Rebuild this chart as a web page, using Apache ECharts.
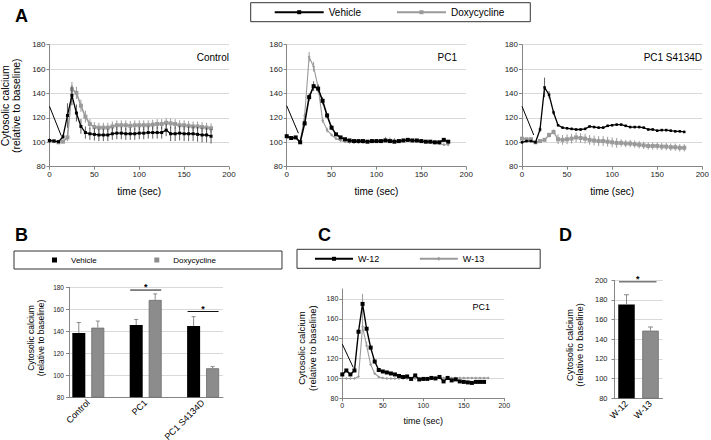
<!DOCTYPE html>
<html><head><meta charset="utf-8">
<script src="https://cdn.jsdelivr.net/npm/echarts@6/dist/echarts.min.js"></script>
<style>html,body{margin:0;padding:0;background:#fff}#c{width:711px;height:440px}</style>
</head><body><div id="c"></div>
<script>
const FONT = '"Liberation Sans", Arial, Helvetica, sans-serif';

// ---------- DATA ----------
const time = [0,5,10,15,20,25,30,35,40,45,50,55,60,65,70,75,80,85,90,95,100,105,110,115,120,125,130,135,140,145,150,155,160,165,170,175,180];
const timeTicks = [0,50,100,150,200];

// Panel A - Control
const a1Vehicle    = [101.5,101,100.5,104.5,122,138.5,124,113,108,107,106.5,106,106,106,107,107.5,107.5,107,107,107,107.5,107.5,108,108,108,108,110,107,107,107.5,107,107,107,106.5,106,106,105];
const a1VehicleErr = [2,1,1,2,10,8,7,6,5,5,5,5,5,5,5,5,5,5,5,5,5,5,5,5,5,5,5,6,6,6,6,6,6,6,6,6,6];
const a1Doxy       = [101,101,100,100.5,104,143.5,140.5,130,121,115,112.5,112,112,112,113,114,114,114,113.5,114,114,114,114,114.5,115,115,116,115.5,115,114,114,113.5,113,113,112.5,112,111.5];
const a1DoxyErr    = [1,1,1,1,3,6,5,5,5,4,4,4,4,4,4,4,4,4,4,4,4,4,4,4,4,4,4,4,4,4,4,4,4,4,4,4,4];
// Panel A - PC1
const a2Vehicle    = [105,103.5,104,100,115.5,137,146,144,134,122,112,106.5,104,102.5,101.5,101,101,101,100.5,101,101,101,101.5,101,100.5,101,101.5,102,101.5,101.5,101,100.5,100.5,100,100,102,100.5];
const a2VehicleErr = [1,1,1,1,2,3,4,3,3,2,2,1,1,1,1,1,1,1,1,1,1,1,1,1,1,1,1,1,1,1,1,1,1,1,1,1,1];
const a2Doxy       = [104,103,104,100,122,170,162,145,118,110,106,103,101.5,100.5,100,100,100,100,100.5,100.5,101,101,102.5,102,101.5,101,101,101.5,101.5,101,101,100.5,100,99.5,99,98,98];
const a2DoxyErr    = [1,1,1,1,2,4,4,3,2,2,1,1,1,1,1,1,1,1,1,1,1,1,2,2,2,1,1,1,1,1,1,1,1,1,1,1,1];
// Panel A - PC1 S4134D
const a3Vehicle    = [100,101,101,100,110.5,145,139,124.5,114,112,111.5,111,110.5,110.5,111,113,112.5,112,112,113.5,114,114.5,114.5,113.5,112.5,112.5,112.5,112,110.5,110.5,109.5,110,110,109.5,109,109,108.5];
const a3VehicleErr = [1,1,1,1,2,8,3,2,1,1,1,1,1,1,1,1,1,1,1,1,1,1,1,1,1,1,1,1,1,1,1,1,1,1,1,1,1];
const a3Doxy       = [103,102.5,102.5,100,101,102,106,108.5,102.5,102,102.5,103,104,103.5,103,102,101.5,101,101,100.5,100,99.5,99.5,99,99,98.5,98,97.5,97,97,97,96.5,96.5,96,96,95.5,95.5];
const a3DoxyErr    = [1,1,1,1,1,1,2,2,4,4,4,4,4,4,4,4,4,4,4,4,4,4,3,3,3,3,3,3,3,3,3,3,3,3,3,3,3];
// stimulus arrows [start, end] in (time, value)
const arrowA1 = [[0,129.5],[13,105.5]];
const arrowA2 = [[0,130],[13,107.5]];
const arrowA3 = [[0,129.5],[13,106]];
const arrowC  = [[0,134.5],[13.5,111]];

// Panel B
const catsB   = ['Control','PC1','PC1 S4134D'];
const vehB    = [138.5,145.8,144.8];
const vehBErr = [9.5,5,8.5];
const doxB    = [143.3,168.5,106.4];
const doxBErr = [6,5.5,1.5];
const sigB    = [['PC1',177.5,'PC1'],['PC1 S4134D',158,'PC1 S4134D']];

// Panel C
const timeW12 = [0,5,10,15,20,25,30,35,40,45,50,55,60,65,70,75,80,85,90,95,100,105,110,115,120,125,130,135,140,145,150,155,160,165,170,175];
const w12     = [104,108,104,108,147,175,150,131,117,108.5,107,106,105,104,102.5,101.5,102,99.5,103,99,99.5,99.5,100.5,100,101.5,97,100.5,98,99,97,96.5,96,95.5,96.5,96.5,96.5];
const w13     = [100,100,100,100,102,152,133,114,105,101.5,100.5,100,100,100,100,100,100,100,100,100,100,100,100,100.5,100.5,100.5,100.5,100.5,100.5,100.5,100.5,100.5,100.5,100.5,100.5,100.5,100.5];
const w13Err  = [0,0,0,0,0,33,4,2,0,0,0,0,0,0,0,0,0,0,0,0,0,0,0,0,0,0,0,0,0,0,0,0,0,0,0,0,0];

// Panel D
const catsD = ['W-12','W-13'];
const valD  = [175.3,148.8];
const errD  = [10,3.7];
const sigD  = [['W-12',198.6,'W-13']];

// ---------- HELPERS ----------
const AX = '#868686', GRID = '#d9d9d9', GRAY = '#9a9a9a', BARGRAY = '#8c8c8c';
function pairs(t, v){ return v.map((y,i)=>[t[i], y]); }

function lineSeries(name, gi, t, v, color, symbol, size, width, z, arrow){
  const s = {name, type:'line', xAxisIndex:gi, yAxisIndex:gi, data:pairs(t,v),
    symbol, symbolSize:size, showSymbol:true, showAllSymbol:true,
    lineStyle:{color, width}, itemStyle:{color}, silent:true, z, animation:false};
  if (arrow) s.markLine = {silent:true, symbol:['none','arrow'], symbolSize:[0,5],
    lineStyle:{color:'#000', width:1, type:'solid'}, label:{show:false}, animation:false,
    data:[[{coord:arrow[0]},{coord:arrow[1]}]]};
  return s;
}
function errSeries(gi, t, v, e, color, cap, upOnly, z, lw){
  return {type:'custom', xAxisIndex:gi, yAxisIndex:gi, silent:true, z, animation:false,
    data: v.map((y,i)=>[t[i], y, e[i]]).filter(d=>d[2]>0),
    renderItem(p, api){
      const x=api.value(0), y=api.value(1), er=api.value(2);
      const a=api.coord([x, y+er]), b=api.coord([x, upOnly? y : y-er]);
      const ch=[{type:'line', shape:{x1:a[0],y1:a[1],x2:b[0],y2:b[1]}, style:{stroke:color,lineWidth:lw||1}}];
      if (cap) ch.push({type:'line', shape:{x1:a[0]-cap,y1:a[1],x2:a[0]+cap,y2:a[1]}, style:{stroke:color,lineWidth:1}});
      return {type:'group', children:ch};
    }};
}
function barErr(gi, cats, v, e, off, color, cap){
  return {type:'custom', xAxisIndex:gi, yAxisIndex:gi, silent:true, z:5, animation:false,
    data: v.map((y,i)=>[cats[i], y, e[i]]),
    renderItem(p, api){
      const c=api.coord([api.value(0), api.value(1)]);
      const t=api.coord([api.value(0), api.value(1)+api.value(2)]);
      const x=c[0]+off;
      return {type:'group', children:[
        {type:'line', shape:{x1:x,y1:c[1],x2:x,y2:t[1]}, style:{stroke:color,lineWidth:1}},
        {type:'line', shape:{x1:x-cap,y1:t[1],x2:x+cap,y2:t[1]}, style:{stroke:color,lineWidth:1}}]};
    }};
}
function sigSeries(gi, data, extL, extR, color, lw){
  return {type:'custom', xAxisIndex:gi, yAxisIndex:gi, silent:true, z:6, animation:false,
    data, encode:{x:[0,2], y:1},
    renderItem(p, api){
      const a=api.coord([api.value(0), api.value(1)]);
      const b=api.coord([api.value(2), api.value(1)]);
      const x1=a[0]+extL, x2=b[0]+extR, y=a[1];
      return {type:'group', children:[
        {type:'line', shape:{x1,y1:y,x2,y2:y}, style:{stroke:color,lineWidth:lw}},
        {type:'text', style:{text:'*', x:(x1+x2)/2, y:y+1.5, align:'center', verticalAlign:'bottom',
          fontSize:9, fontWeight:'bold', fontFamily:FONT, fill:'#000'}}]};
    }};
}
function xTime(gi, fs, gap, nfs){
  return {type:'value', gridIndex:gi, min:timeTicks[0], max:timeTicks[timeTicks.length-1], interval:50,
    axisLine:{show:true, onZero:false, lineStyle:{color:AX}}, axisTick:{show:true, length:3, lineStyle:{color:AX}},
    splitLine:{show:false}, axisLabel:{fontSize:fs, color:'#222', margin:4, fontFamily:FONT},
    name:'time (sec)', nameLocation:'middle', nameGap:gap, nameMoveOverlap:false,
    nameTextStyle:{fontSize:nfs, color:'#000', fontFamily:FONT}};
}
function yVal(gi, min, max, fs, margin, title){
  const o = {type:'value', gridIndex:gi, min, max, interval:20,
    axisLine:{show:true, onZero:false, lineStyle:{color:AX}}, axisTick:{show:true, length:3, lineStyle:{color:AX}},
    splitLine:{show:true, showMaxLine:true, lineStyle:{color:GRID, width:1}},
    axisLabel:{fontSize:fs, color:'#222', margin, fontFamily:FONT}};
  if (title){
    o.name='Cytosolic calcium\n(relative to baseline)'; o.nameLocation='middle'; o.nameRotate=90;
    o.nameMoveOverlap=false;
    o.nameGap=title.gap; o.nameTextStyle={fontSize:title.fs, lineHeight:title.lh, color:'#000', fontFamily:FONT, padding:title.pad||0};
  }
  return o;
}

const grids = [
  {left:49.5, top:44.7, width:179.5, height:122},   // A1
  {left:286.7, top:44.7, width:179.5, height:122},  // A2
  {left:522, top:44.7, width:180.3, height:122},    // A3
  {left:342.3, top:289, width:162, height:109.3},   // C
  {left:69, top:287.3, width:154, height:110},      // B axes
  {left:59.6, top:287.3, width:172.2, height:110},  // B bars
  {left:614.5, top:280.3, width:48, height:118}     // D
].map(g=>Object.assign({outerBoundsMode:'none', containLabel:false}, g));

const xAxes = [
  xTime(0, 8, 20, 10), xTime(1, 8, 20, 10), xTime(2, 8, 20, 10), xTime(3, 7, 18, 9),
  {type:'value', gridIndex:4, min:0, max:1, axisLine:{show:true, lineStyle:{color:AX}}, axisTick:{show:false}, axisLabel:{show:false}, splitLine:{show:false}},
  {type:'category', gridIndex:5, data:catsB, axisLine:{show:false}, axisTick:{show:false},
    axisLabel:{rotate:45, interval:0, fontSize:9, margin:4, color:'#000', fontFamily:FONT}},
  {type:'category', gridIndex:6, data:catsD, axisLine:{show:true, lineStyle:{color:AX}}, axisTick:{show:false},
    axisLabel:{rotate:45, interval:0, fontSize:9, margin:4, color:'#000', fontFamily:FONT}}
];
const yC = yVal(3, 80, 190, 7, 4, {gap:25, fs:9.5, lh:10.5, pad:[0,9,0,0]});
yC.axisLabel.showMaxLabel = false; yC.splitLine.showMaxLine = false;
const yAxes = [
  yVal(0, 80, 180, 8, 4, {gap:27.5, fs:10.5, lh:11.5}),
  yVal(1, 80, 180, 8, 4), yVal(2, 80, 180, 8, 4),
  yC,
  yVal(4, 80, 180, 6.5, 5, {gap:23.5, fs:8.5, lh:9.5, pad:[0,0,0,8.6]}),
  {type:'value', gridIndex:5, min:80, max:180, show:false},
  yVal(6, 80, 200, 7.5, 7, {gap:30, fs:9.3, lh:10, pad:[0,11.4,0,0]})
];

const series = [
  // A1
  errSeries(0, time, a1Doxy, a1DoxyErr, GRAY, 0, false, 2, 1),
  lineSeries('Doxycycline', 0, time, a1Doxy, GRAY, 'rect', 4, 1.6, 3),
  errSeries(0, time, a1Vehicle, a1VehicleErr, '#333', 0, false, 4, 0.8),
  lineSeries('Vehicle', 0, time, a1Vehicle, '#000', 'rect', 3, 1.3, 5, arrowA1),
  // A2
  errSeries(1, time, a2Doxy, a2DoxyErr, GRAY, 0, false, 2, 1),
  lineSeries('Doxycycline', 1, time, a2Doxy, GRAY, 'diamond', 3, 1.1, 3),
  errSeries(1, time, a2Vehicle, a2VehicleErr, '#333', 0, false, 4, 0.8),
  lineSeries('Vehicle', 1, time, a2Vehicle, '#000', 'rect', 4, 1.6, 5, arrowA2),
  // A3
  errSeries(2, time, a3Doxy, a3DoxyErr, GRAY, 0, false, 2, 1),
  lineSeries('Doxycycline', 2, time, a3Doxy, GRAY, 'rect', 4, 1.4, 3),
  errSeries(2, time, a3Vehicle, a3VehicleErr, '#333', 0, false, 4, 0.8),
  lineSeries('Vehicle', 2, time, a3Vehicle, '#000', 'rect', 2.5, 1.3, 5, arrowA3),
  // C
  errSeries(3, time, w13, w13Err, GRAY, 0, true, 2, 1),
  lineSeries('W-13', 3, time, w13, GRAY, 'diamond', 3, 1.1, 3),
  lineSeries('W-12', 3, timeW12, w12, '#000', 'rect', 4, 1.4, 5, arrowC),
  // B
  {name:'Vehicle', type:'bar', xAxisIndex:5, yAxisIndex:5, data:vehB, barWidth:13, barGap:'46%',
    itemStyle:{color:'#000'}, silent:true, animation:false},
  {name:'Doxycycline', type:'bar', xAxisIndex:5, yAxisIndex:5, data:doxB, barWidth:13, barGap:'46%',
    itemStyle:{color:BARGRAY, borderColor:'#6e6e6e', borderWidth:0.8}, silent:true, animation:false},
  barErr(5, catsB, vehB, vehBErr, -9.5, '#8a8a8a', 2),
  barErr(5, catsB, doxB, doxBErr, 9.5, '#8a8a8a', 2),
  sigSeries(5, sigB, -15.5, 15.5, '#111', 1),
  // D
  {name:'D', type:'bar', xAxisIndex:6, yAxisIndex:6, barWidth:16.5, silent:true, animation:false,
    data: valD.map((v,i)=>({value:v, itemStyle: i===0 ? {color:'#000'} : {color:BARGRAY, borderColor:'#6e6e6e', borderWidth:0.8}}))},
  barErr(6, catsD, valD, errD, 0, '#8a8a8a', 2.5),
  sigSeries(6, sigD, -7.5, 6, '#7a7a7a', 1.5)
];

const legTxt = (fs, pad)=>({fontSize:fs, color:'#000', fontFamily:FONT, padding:pad||0});
const legend = [
  {data:['Vehicle','Doxycycline'], left:250.7, top:2.7, itemWidth:49, itemHeight:5, itemGap:35,
   padding:[4.5,26,4.5,23], borderColor:'#333', borderWidth:1, selectedMode:false, textStyle:legTxt(10)},
  {data:[{name:'Vehicle', icon:'rect', itemStyle:{color:'#000', borderWidth:0}},
         {name:'Doxycycline', icon:'rect', itemStyle:{color:BARGRAY, borderWidth:0}}],
   left:14, top:251, itemWidth:5, itemHeight:5, itemGap:57.5, padding:[5,66,5,38],
   borderColor:'#333', borderWidth:1, selectedMode:false, textStyle:legTxt(8, [0,0,0,9])},
  {data:['W-12','W-13'], left:297, top:249.3, itemWidth:38, itemHeight:5, itemGap:39.5,
   padding:[5,56,5,17], borderColor:'#333', borderWidth:1, selectedMode:false, textStyle:legTxt(9)}
];

function txt(text, x, y, fs, align, bold){
  return {type:'text', silent:true, style:{text, x, y, fontSize:fs, fontWeight:bold?'bold':'normal',
    fontFamily:FONT, fill:'#000', align, verticalAlign:'middle'}};
}
const graphic = [
  txt('A', 15, 15.5, 18, 'left', true),
  txt('B', 15, 234.5, 18, 'left', true),
  txt('C', 318, 234.5, 18, 'left', true),
  txt('D', 559, 235, 18, 'left', true),
  txt('Control', 229, 57, 10, 'right'),
  txt('PC1', 457, 57, 10, 'right'),
  txt('PC1 S4134D', 702, 57, 10, 'right'),
  txt('PC1', 490, 307, 9, 'right')
];

const chart = echarts.init(document.getElementById('c'), null, {renderer:'svg'});
chart.setOption({animation:false, backgroundColor:'#fff', grid:grids, xAxis:xAxes, yAxis:yAxes,
  series, legend, graphic, tooltip:{show:false}});
</script></body></html>
